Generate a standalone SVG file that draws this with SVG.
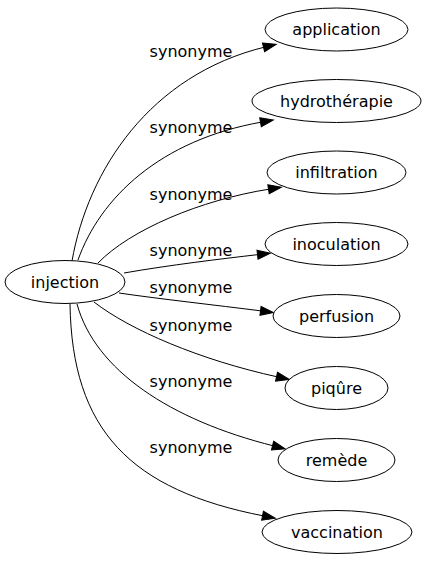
<svg xmlns="http://www.w3.org/2000/svg" width="429" height="563" viewBox="0 0 429 563">
<defs>
<style>
.n ellipse{fill:#fff;stroke:#000;stroke-width:1}
text{font-family:"DejaVu Sans",sans-serif;font-size:16px;fill:#000;text-anchor:middle}
.e path{fill:none;stroke:#000;stroke-width:1}
</style>
<marker id="ah" markerUnits="userSpaceOnUse" markerWidth="14" markerHeight="10" refX="1.5" refY="4.5" orient="auto" overflow="visible">
<path d="M0,0 L13,4.5 L0,9 z" fill="#000" stroke="#000" stroke-width="1"/>
</marker>
</defs>
<rect width="429" height="563" fill="#fff"/>
<g id="edges" class="e">
<path d="M72,261 C88,170 150,75 265,47" marker-end="url(#ah)"/>
<path d="M78,260 C100,198 160,140 262,122" marker-end="url(#ah)"/>
<path d="M98,263 C130,230 200,200 270,189" marker-end="url(#ah)"/>
<path d="M124,273 C170,265 220,259 259,254.5" marker-end="url(#ah)"/>
<path d="M119,293 C160,299 215,305 262,311" marker-end="url(#ah)"/>
<path d="M94,302 C130,330 200,360 278,377" marker-end="url(#ah)"/>
<path d="M77,304 C95,370 170,420 274,446" marker-end="url(#ah)"/>
<path d="M70,304 C72,430 130,490 264,516" marker-end="url(#ah)"/>
<text x="191" y="57">synonyme</text>
<text x="191" y="133">synonyme</text>
<text x="191" y="200">synonyme</text>
<text x="191" y="256">synonyme</text>
<text x="191" y="293">synonyme</text>
<text x="191" y="331">synonyme</text>
<text x="191" y="387">synonyme</text>
<text x="191" y="453">synonyme</text>
</g>
<g id="injection" class="n"><ellipse cx="65" cy="282" rx="60" ry="21.5"/><text x="65" y="287.5">injection</text></g>
<g id="application" class="n"><ellipse cx="336.5" cy="29.5" rx="71.5" ry="21.5"/><text x="336.5" y="35">application</text></g>
<g id="hydrotherapie" class="n"><ellipse cx="336.5" cy="101" rx="84.5" ry="21.5"/><text x="336.5" y="106.5">hydrothérapie</text></g>
<g id="infiltration" class="n"><ellipse cx="336.5" cy="172.5" rx="69.5" ry="21.5"/><text x="336.5" y="178">infiltration</text></g>
<g id="inoculation" class="n"><ellipse cx="336.5" cy="244" rx="71.5" ry="21.5"/><text x="336.5" y="249.5">inoculation</text></g>
<g id="perfusion" class="n"><ellipse cx="336.5" cy="316" rx="63.5" ry="21.5"/><text x="336.5" y="321.5">perfusion</text></g>
<g id="piqure" class="n"><ellipse cx="336.5" cy="388" rx="51.5" ry="21.5"/><text x="336.5" y="393.5">piqûre</text></g>
<g id="remede" class="n"><ellipse cx="336.5" cy="460" rx="58.5" ry="21.5"/><text x="336.5" y="465.5">remède</text></g>
<g id="vaccination" class="n"><ellipse cx="337" cy="532" rx="75" ry="21.5"/><text x="337" y="537.5">vaccination</text></g>
</svg>
